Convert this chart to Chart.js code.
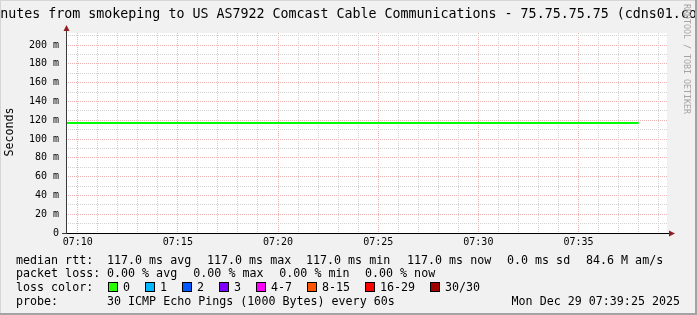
<!DOCTYPE html>
<html>
<head>
<meta charset="utf-8">
<script src="https://cdn.jsdelivr.net/npm/chart.js@4.4.0/dist/chart.umd.min.js"></script>
<style>
  body { margin: 0; background: #f1f1f1; }
  #canvas { display: block; }
</style>
</head>
<body>
<canvas id="canvas" width="697" height="315"></canvas>
<script>
const titleText = "Last 30 minutes from smokeping to US AS7922 Comcast Cable Communications - 75.75.75.75 (cdns01.comcast.net)";

// minutes after 07:00, one sample per minute
const times = [9, 10, 11, 12, 13, 14, 15, 16, 17, 18, 19, 20, 21, 22, 23, 24, 25, 26, 27, 28, 29, 30, 31, 32, 33, 34, 35, 36, 37, 38];
const medianRtt = [117.0, 117.0, 117.0, 117.0, 117.0, 117.0, 117.0, 117.0, 117.0, 117.0, 117.0, 117.0, 117.0, 117.0, 117.0,
                   117.0, 117.0, 117.0, 117.0, 117.0, 117.0, 117.0, 117.0, 117.0, 117.0, 117.0, 117.0, 117.0, 117.0, 117.0];

// grid / tick positions
const minuteTicks = [10, 11, 12, 13, 14, 15, 16, 17, 18, 19, 20, 21, 22, 23, 24, 25, 26, 27, 28, 29, 30, 31, 32, 33, 34, 35, 36, 37, 38, 39];
const rttTicks = [0, 10, 20, 30, 40, 50, 60, 70, 80, 90, 100, 110, 120, 130, 140, 150, 160, 170, 180, 190, 200, 210];

const rttStats = ["117.0 ms avg", "117.0 ms max", "117.0 ms min", "117.0 ms now", "0.0 ms sd", "84.6 M am/s"];
const lossStats = ["0.00 % avg", "0.00 % max", "0.00 % min", "0.00 % now"];
const lossLabels = ["0", "1", "2", "3", "4-7", "8-15", "16-29", "30/30"];
const lossColors = ["#26ff00", "#00b8ff", "#0059ff", "#7e00ff", "#ff00ff", "#ff5500", "#ff0000", "#a10000"];
const probeText = "30 ICMP Echo Pings (1000 Bytes) every 60s";
const stampText = "Mon Dec 29 07:39:25 2025";

const xStart = 9 + 25 / 60;   // 07:09:25
const xEnd = 39 + 25 / 60;    // 07:39:25

const MONO = "'DejaVu Sans Mono', 'Liberation Mono', monospace";
const minorGrid = "#d2d2d2";
const majorGrid = "#ebb2b2";

const framePlugin = {
    id: "frame",
    beforeDraw(chart) {
        const c = chart.ctx;
        const a = chart.chartArea;
        c.save();
        c.fillStyle = "#f1f1f1";
        c.fillRect(0, 0, chart.width, chart.height);
        c.fillStyle = "#ffffff";
        c.fillRect(a.left, a.top, a.right - a.left, a.bottom - a.top);
        c.restore();
    },
    afterDraw(chart) {
        const c = chart.ctx;
        const a = chart.chartArea;
        c.save();

        // axes
        c.strokeStyle = "#3a3a3a";
        c.lineWidth = 1;
        c.beginPath();
        c.moveTo(a.left + 0.5, a.bottom + 1);
        c.lineTo(a.left + 0.5, a.top - 4);
        c.moveTo(a.left - 4, a.bottom + 0.5);
        c.lineTo(a.right + 4, a.bottom + 0.5);
        c.stroke();
        c.strokeStyle = "#000000";
        c.beginPath();
        c.moveTo(a.left + 1, a.bottom + 0.5);
        c.lineTo(a.right + 3, a.bottom + 0.5);
        c.stroke();

        // arrows
        c.fillStyle = "#8f1f1f";
        c.beginPath();
        c.moveTo(a.left + 0.5, a.top - 8);
        c.lineTo(a.left + 3.5, a.top - 2);
        c.lineTo(a.left - 2.5, a.top - 2);
        c.closePath();
        c.fill();
        c.beginPath();
        c.moveTo(a.right + 8, a.bottom + 0.5);
        c.lineTo(a.right + 2, a.bottom + 3.5);
        c.lineTo(a.right + 2, a.bottom - 2.5);
        c.closePath();
        c.fill();

        // title
        c.fillStyle = "#000000";
        c.font = "13.3px " + MONO;
        c.textAlign = "center";
        c.textBaseline = "alphabetic";
        c.fillText(titleText, chart.width / 2, 17.5);

        // y title
        c.save();
        c.font = "11.67px " + MONO;
        c.translate(10, 132);
        c.rotate(-Math.PI / 2);
        c.textAlign = "center";
        c.textBaseline = "middle";
        c.fillText("Seconds", 0, 0);
        c.restore();

        // watermark
        c.save();
        c.font = "8.3px " + MONO;
        c.fillStyle = "#a4a4a4";
        c.translate(686, 4);
        c.rotate(Math.PI / 2);
        c.textAlign = "left";
        c.textBaseline = "middle";
        c.fillText("RRDTOOL / TOBI OETIKER", 0, 0);
        c.restore();

        // legend
        c.font = "11.67px " + MONO;
        c.textAlign = "left";
        c.textBaseline = "alphabetic";
        const rows = [263.5, 277.2, 290.9, 304.5];
        c.fillText("median rtt:", 16, rows[0]);
        const rttX = [107, 207, 306, 407, 507, 586];
        rttStats.forEach((s, i) => c.fillText(s, rttX[i], rows[0]));

        c.fillText("packet loss:", 16, rows[1]);
        const lossX = [107, 193.3, 279.3, 365];
        lossStats.forEach((s, i) => c.fillText(s, lossX[i], rows[1]));

        c.fillText("loss color:", 16, rows[2]);
        const boxX = [108.5, 145.5, 182.5, 219.5, 256.5, 307.5, 365.5, 430.5];
        lossLabels.forEach((s, i) => {
            c.fillStyle = lossColors[i];
            c.fillRect(boxX[i], 282.5, 9, 9);
            c.strokeStyle = "#000000";
            c.lineWidth = 1;
            c.strokeRect(boxX[i], 282.5, 9, 9);
            c.fillStyle = "#000000";
            c.fillText(s, boxX[i] + 14.5, rows[2]);
        });

        c.fillText("probe:", 16, rows[3]);
        c.fillText(probeText, 107, rows[3]);
        c.textAlign = "right";
        c.fillText(stampText, 680, rows[3]);

        // outer frame
        c.fillStyle = "#d6d6d6";
        c.fillRect(0, 0, chart.width, 1);
        c.fillRect(0, 0, 1, chart.height);
        c.fillStyle = "#a3a3a3";
        c.fillRect(chart.width - 2, 0, 2, chart.height);
        c.fillRect(0, chart.height - 2, chart.width, 2);
        c.restore();
    }
};

const ctx = document.getElementById("canvas").getContext("2d");

const rttChart = new Chart(ctx, {
    type: "line",
    data: {
        datasets: [{
            label: "median rtt",
            data: times.map((t, i) => ({ x: t, y: medianRtt[i] })),
            borderColor: "#00ff00",
            borderWidth: 2,
            pointRadius: 0,
            tension: 0,
        }],
    },
    options: {
        responsive: false,
        maintainAspectRatio: false,
        animation: false,
        layout: { padding: { left: 0, right: 30, top: 33, bottom: 62 } },
        plugins: {
            legend: { display: false },
            title: { display: false },
            tooltip: { enabled: false },
        },
        scales: {
            x: {
                type: "linear",
                min: xStart,
                max: xEnd,
                afterFit(scale) { scale.height = 20; },
                afterBuildTicks(scale) {
                    scale.ticks = minuteTicks.map(v => ({ value: v }));
                },
                ticks: {
                    autoSkip: false,
                    maxRotation: 0,
                    padding: 3,
                    color: "#000000",
                    font: { family: MONO, size: 10 },
                    callback: v => (v % 5 === 0 ? "07:" + String(v).padStart(2, "0") : ""),
                },
                grid: {
                    drawTicks: false,
                    color: c => (c.tick && c.tick.value % 5 === 0 ? majorGrid : minorGrid),
                },
                border: { display: false, dash: [1, 1] },
            },
            y: {
                min: 0,
                max: 212.8,
                afterFit(scale) { scale.width = 66; },
                afterBuildTicks(scale) {
                    scale.ticks = rttTicks.map(v => ({ value: v }));
                },
                ticks: {
                    autoSkip: false,
                    padding: 7,
                    color: "#000000",
                    font: { family: MONO, size: 10 },
                    callback: v => (v % 20 === 0 ? (v === 0 ? "0" : v + " m") : ""),
                },
                grid: {
                    drawTicks: false,
                    color: c => (c.tick && c.tick.value % 20 === 0 ? majorGrid : minorGrid),
                },
                border: { display: false, dash: [1, 1] },
            },
        },
    },
    plugins: [framePlugin],
});
</script>
</body>
</html>
